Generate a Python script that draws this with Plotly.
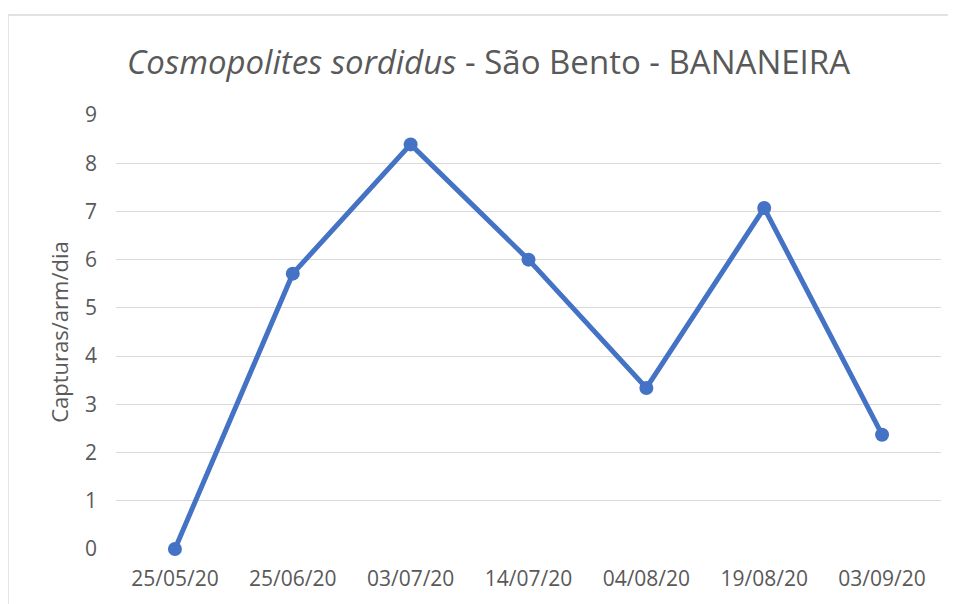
import plotly.graph_objects as go

categories = ["25/05/20", "25/06/20", "03/07/20", "14/07/20", "04/08/20", "19/08/20", "03/09/20"]
values = [0, 5.71, 8.39, 6.0, 3.34, 7.07, 2.37]
y_ticks = [0, 1, 2, 3, 4, 5, 6, 7, 8, 9]

# page has an 8px body margin, so figure is 948x596
W, H = 948, 596
ml, mr, mt, mb = 108, 15, 107, 55
pw = W - ml - mr
ph = H - mt - mb

fig = go.Figure()
fig.add_trace(go.Scatter(
    x=categories, y=values, mode="lines+markers",
    line=dict(color="#4472C4", width=5),
    marker=dict(color="#4472C4", size=14),
    cliponaxis=False,
    showlegend=False,
))

grey = "#595959"
fig.update_layout(
    width=W, height=H,
    margin=dict(l=ml, r=mr, t=mt, b=mb),
    paper_bgcolor="white", plot_bgcolor="white",
    font=dict(family="Open Sans", color=grey),
    title=dict(
        text="<i>Cosmopolites sordidus</i> - São Bento - BANANEIRA",
        x=480.5 / W, xref="container", xanchor="center",
        y=1 - 54 / H, yanchor="middle",
        font=dict(family="Open Sans", size=33, color=grey),
    ),
    xaxis=dict(
        type="category", showgrid=False, showline=False, ticks="",
        tickfont=dict(size=21, color=grey), range=[-0.5, 6.5],
        ticklabelstandoff=15,
    ),
    yaxis=dict(
        range=[0, 9], tickvals=y_ticks, showgrid=True,
        gridcolor="#D9D9D9", gridwidth=1.3, zeroline=False,
        showline=False, ticks="", ticklen=0,
        tickfont=dict(size=21, color=grey),
        ticklabelstandoff=18,
        title=dict(text="Capturas/arm/dia", font=dict(size=22, color=grey), standoff=10),
    ),
)

fig.add_shape(
    type="rect", xref="paper", yref="paper",
    x0=(0 - ml) / pw, x1=(990 - ml) / pw,
    y0=-(640 - (H - mb)) / ph, y1=1 + (mt - 7) / ph,
    line=dict(color="#D9D9D9", width=1.3), fillcolor="rgba(0,0,0,0)", layer="below",
)

fig.write_html("out.html")
